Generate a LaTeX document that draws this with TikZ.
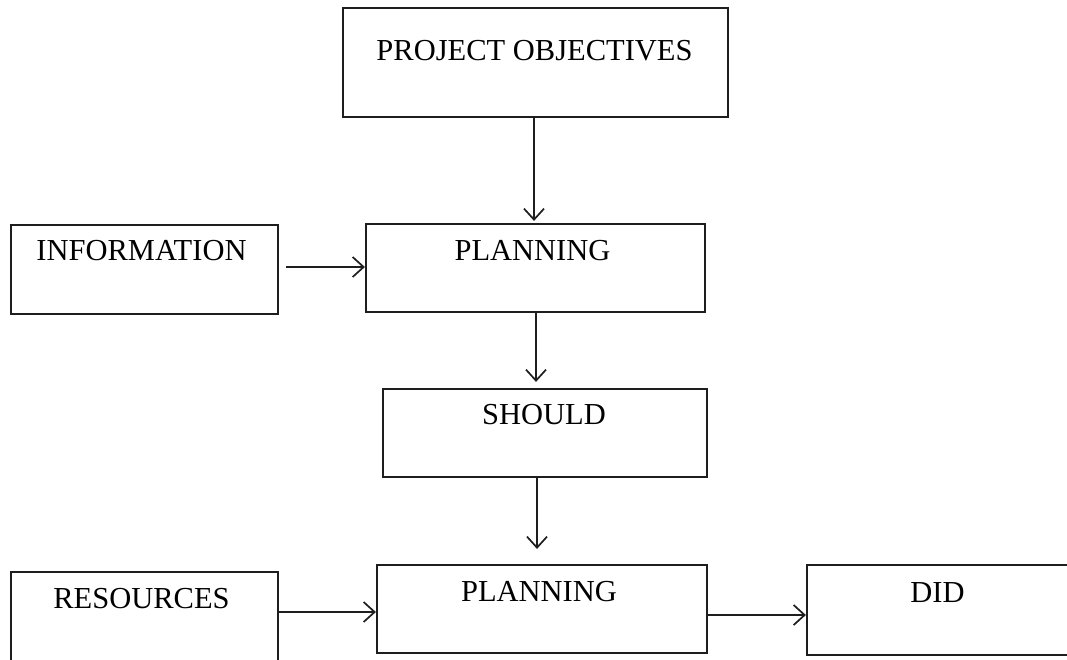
\documentclass[tikz,border=0pt]{standalone}
\usepackage{fontspec}
\setmainfont{Liberation Serif}
\usetikzlibrary{arrows.meta}
\definecolor{ink}{HTML}{1E1E1E}
\tikzset{
  box/.style={draw=ink, line width=2.2pt, rectangle, inner sep=0pt},
  arr/.style={draw=ink, line width=2pt, -{Straight Barb[length=11pt,width=20pt,line width=1.7pt]}},
  boxtext/.style={font=\fontsize{30.5}{36}\selectfont, text=black, inner sep=0pt}
}
\begin{document}
\begin{tikzpicture}[x=1pt,y=-1pt]
\clip (0,0) rectangle (1067,659);
\fill[white] (0,0) rectangle (1067,659);

\node[box, minimum width=385pt, minimum height=109pt,
  label={[boxtext, anchor=center, yshift=-44pt, xshift=-1pt]north:PROJECT OBJECTIVES}] (po) at (535.5,62.5) {};
\node[box, minimum width=267pt, minimum height=89pt,
  label={[boxtext, anchor=center, yshift=-27pt, xshift=-3pt]north:INFORMATION}] (info) at (144.5,269.5) {};
\node[box, minimum width=339pt, minimum height=88pt,
  label={[boxtext, anchor=center, yshift=-28pt, xshift=-3pt]north:PLANNING}] (plan1) at (535.5,268) {};
\node[box, minimum width=324pt, minimum height=88pt,
  label={[boxtext, anchor=center, yshift=-27pt, xshift=-1pt]north:SHOULD}] (should) at (545,433) {};
\node[box, minimum width=267pt, minimum height=92pt,
  label={[boxtext, anchor=center, yshift=-28pt, xshift=-3pt]north:RESOURCES}] (res) at (144.5,618) {};
\node[box, minimum width=330pt, minimum height=88pt,
  label={[boxtext, anchor=center, yshift=-28pt, xshift=-3pt]north:PLANNING}] (plan2) at (542,609) {};
\node[box, minimum width=263pt, minimum height=90pt,
  label={[boxtext, anchor=center, yshift=-29pt, xshift=-1pt]north:DID}] (did) at (938.5,610) {};

\draw[arr, shorten >=2pt] ([xshift=-1.5pt]po.south) -- ([xshift=-1.5pt]po.south |- plan1.north);
\draw[arr, shorten <=7pt] ([yshift=2.5pt]info.east) -- ([yshift=2.5pt]info.east -| plan1.west);
\draw[arr, shorten >=6pt] ([xshift=0.5pt]plan1.south) -- ([xshift=0.5pt]plan1.south |- should.north);
\draw[arr, shorten >=15pt] ([xshift=1.5pt]plan1.south |- should.south) -- ([xshift=1.5pt]plan1.south |- plan2.north);
\draw[arr] ([yshift=6pt]res.east) -- ([yshift=6pt]res.east -| plan2.west);
\draw[arr] ([yshift=-6pt]plan2.east) -- ([yshift=-6pt]plan2.east -| did.west);
\end{tikzpicture}
\end{document}
